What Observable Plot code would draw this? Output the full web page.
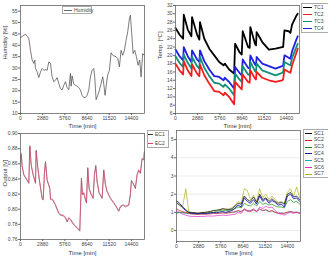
<!DOCTYPE html>
<html><head><meta charset="utf-8">
<script src="https://cdn.jsdelivr.net/npm/d3@7"></script>
<script src="https://cdn.jsdelivr.net/npm/@observablehq/plot@0.6"></script>
<style>
body{margin:0;background:#fff;}
#root{position:relative;width:328px;height:263px;overflow:hidden;font-family:"Liberation Sans",Arial,sans-serif;background:#fff;}
.lg{position:absolute;border:0.6px solid #aaa;background:#fff;box-sizing:border-box;}
.lt{position:absolute;font-size:5px;color:#444;line-height:5px;white-space:nowrap;}
.ll{position:absolute;height:0;}
</style>
</head><body><div id="root"></div>
<script>
// ---------- data ----------
const xTickValues = [0, 2880, 5760, 8640, 11520, 14400];

const humTime = [0,432,649,865,1081,1297,1513,1730,1859,1946,2162,2378,2594,2811,3027,3243,3459,3675,3892,4108,4324,4540,4756,4973,5189,5405,5621,5838,6054,6270,6486,6573,6702,6918,7135,7351,7567,7783,7999,8216,8432,8648,8864,9080,9297,9513,9642,9815,10032,10248,10464,10680,10810,10983,11156,11329,11545,11761,11977,12194,12410,12626,12842,13058,13275,13491,13707,13923,14140,14269,14442,14615,14831,15048,15264,15480,15653,15869,16050];
const humidity = [43.4,44.4,44.9,44.0,43.0,37.8,33.5,32.0,33.5,29.8,28.3,25.8,28.3,29.8,29.0,29.3,29.0,32.7,32.0,26.1,24.0,24.6,25.8,23.2,21.0,20.3,22.4,24.0,21.4,20.5,27.6,22.0,26.5,22.9,22.4,22.0,21.4,20.3,18.0,17.0,17.0,18.0,20.3,26.1,29.0,29.8,26.0,16.1,18.0,20.3,23.2,26.1,23.0,18.0,23.0,27.0,29.0,36.7,35.6,35.2,35.0,34.2,30.5,37.8,35.6,37.8,42.2,45.9,51.8,53.2,45.2,36.4,37.8,35.0,31.2,33.5,26.1,36.4,35.6];
const humTicks = [10,15,20,25,30,35,40,45,50,55];

const tcTime = [0,516,989,1075,1591,2064,2150,2795,3096,3182,3741,4386,5031,5676,6235,6407,6966,7611,7740,8299,8600,8729,9417,9632,9718,10320,10449,10535,11266,12126,12986,13846,13975,14147,14706,14921,15136,15652,15867];
const TC1 = [26.6,25.0,24.0,29.8,26.2,24.6,29.2,25.0,23.8,28.0,24.0,21.6,20.0,18.4,17.6,18.0,16.6,15.6,22.8,20.8,20.2,25.8,22.0,21.8,26.8,22.8,22.4,25.6,23.2,21.4,21.6,22.0,22.0,26.0,25.8,25.4,27.4,29.4,30.0];
const TC2 = [18.0,16.4,15.4,18.6,16.4,15.0,17.8,15.6,15.0,17.8,15.2,13.2,11.4,11.2,10.4,11.0,10.0,8.2,13.6,12.4,11.8,15.4,13.6,13.4,16.4,14.4,14.2,16.0,14.6,14.0,13.6,14.0,14.2,16.6,16.0,15.8,17.6,20.4,21.6];
const TC3 = [19.8,18.2,17.2,20.2,18.2,16.8,19.6,17.4,16.8,19.6,17.0,15.0,13.4,13.2,12.4,13.0,12.0,10.4,15.6,14.2,13.6,17.4,15.4,15.2,18.4,16.2,16.0,18.0,16.4,15.8,15.2,15.8,16.0,18.4,17.8,17.6,19.4,21.8,22.8];
const TC4 = [21.4,19.8,18.8,22.0,19.8,18.4,21.2,19.0,18.4,21.2,18.6,16.6,15.0,14.8,14.0,14.6,13.6,12.0,17.2,15.8,15.2,19.0,17.0,16.8,20.0,17.8,17.6,19.6,18.0,17.4,16.8,17.4,17.6,20.0,19.4,19.2,21.0,23.6,24.6];
const tcTicks = [6,8,10,12,14,16,18,20,22,24,26,28,30,32];

const ecTime = [0,86,216,432,865,1081,1211,1384,1643,1946,2032,2248,2508,2811,2940,3113,3243,3459,3805,3892,4194,4540,4973,5189,5621,5838,6054,6270,6486,6918,7351,7697,7913,8043,8216,8432,8562,8735,8907,9167,9426,9599,9772,9945,10205,10594,10810,11026,11242,11675,12107,12540,12756,12972,13318,13621,14053,14269,14399,14615,14918,15134,15350,15566,15783,15999,16080];
const EC1 = [0.862,0.872,0.856,0.845,0.838,0.834,0.884,0.858,0.845,0.834,0.878,0.854,0.834,0.814,0.812,0.848,0.863,0.838,0.827,0.813,0.812,0.805,0.794,0.792,0.791,0.788,0.783,0.788,0.786,0.779,0.775,0.771,0.841,0.819,0.821,0.812,0.808,0.855,0.827,0.819,0.814,0.845,0.858,0.836,0.821,0.814,0.852,0.832,0.823,0.814,0.808,0.801,0.797,0.803,0.805,0.803,0.805,0.819,0.838,0.834,0.827,0.845,0.852,0.847,0.867,0.865,0.876];
const EC2 = [0.863,0.874,0.857,0.846,0.839,0.835,0.883,0.859,0.846,0.835,0.877,0.855,0.835,0.815,0.813,0.849,0.862,0.839,0.828,0.814,0.813,0.806,0.795,0.793,0.792,0.789,0.784,0.789,0.787,0.780,0.776,0.772,0.840,0.820,0.822,0.813,0.809,0.854,0.828,0.820,0.815,0.846,0.857,0.837,0.822,0.815,0.851,0.833,0.824,0.815,0.809,0.802,0.798,0.804,0.806,0.804,0.806,0.820,0.837,0.835,0.828,0.846,0.851,0.848,0.866,0.866,0.875];
const ecTicks = [0.76,0.78,0.80,0.82,0.84,0.86,0.88,0.90];

const scTime = [0,400,800,1200,1600,2000,2400,2800,3200,3600,4000,4400,4800,5200,5600,6000,6400,6800,7200,7600,8000,8400,8800,9200,9600,10000,10400,10800,11200,11600,12000,12400,12800,13200,13600,14000,14400,14800,15200,15600,16000];
const SC1 = [1.55,1.4,1.25,1.1,1.0,0.98,0.97,0.95,0.98,1.0,1.02,1.05,1.1,1.12,1.15,1.2,1.18,1.15,1.2,1.35,1.5,1.45,1.9,1.7,1.6,1.85,1.55,2.0,1.7,1.8,1.6,1.75,1.6,1.5,1.55,1.45,2.0,2.1,1.85,1.9,1.7];
const SC2 = [1.2,1.1,1.05,1.0,0.95,0.92,0.9,0.9,0.9,0.9,0.9,0.92,0.95,0.93,0.95,0.97,0.95,0.98,1.0,1.05,1.1,1.05,1.2,1.1,1.05,1.15,1.05,1.2,1.1,1.15,1.05,1.1,1.0,0.95,0.95,0.95,1.0,1.05,1.0,1.0,0.95];
const SC3 = [0.95,1.0,1.0,0.98,0.95,0.95,0.93,0.93,0.95,0.95,0.97,1.0,1.0,1.05,1.1,1.12,1.1,1.1,1.15,1.2,1.3,1.25,1.5,1.4,1.35,1.5,1.35,1.6,1.45,1.5,1.4,1.45,1.35,1.3,1.3,1.25,1.6,1.7,1.55,1.6,1.45];
const SC4 = [1.65,1.5,1.3,1.15,1.0,0.95,0.95,0.92,0.95,0.93,0.95,0.97,1.0,0.98,1.02,1.05,1.0,1.05,1.1,1.25,1.4,1.3,1.8,1.6,1.5,1.7,1.45,1.9,1.6,1.75,1.5,1.65,1.55,1.4,1.45,1.3,1.9,2.0,1.75,1.8,1.6];
const SC5 = [1.0,0.98,0.97,0.95,0.93,0.92,0.92,0.91,0.92,0.92,0.93,0.94,0.95,0.95,0.96,0.98,0.97,0.98,1.0,1.02,1.08,1.05,1.15,1.1,1.08,1.12,1.05,1.15,1.1,1.12,1.05,1.08,1.0,0.97,0.96,0.95,1.02,1.05,1.0,1.02,0.98];
const SC6 = [1.1,1.0,0.9,0.85,0.8,0.78,0.78,0.77,0.78,0.78,0.8,0.8,0.8,0.82,0.83,0.85,0.83,0.85,0.88,0.9,1.0,0.95,1.15,1.05,1.1,1.2,1.05,1.3,1.2,1.35,1.25,1.3,1.1,0.95,0.9,0.85,0.95,1.0,0.95,1.0,0.95];
const SC7 = [1.5,1.4,1.3,2.3,1.05,1.0,0.98,0.97,1.0,1.0,1.02,1.05,1.1,1.1,1.15,1.2,1.15,1.2,1.25,1.4,1.6,1.5,2.3,2.2,1.7,1.95,1.6,2.3,1.8,2.0,1.7,1.9,1.7,1.55,1.6,1.5,2.1,2.3,1.9,2.4,1.8];
const scTicks = [0,1,2,3,4,5];

const tcNames = ["TC1","TC2","TC3","TC4"];
const tcColors = ["#000000","#f01e1e","#14907a","#2020e0"];
const ecNames = ["EC1","EC2"];
const ecColors = ["#333333","#e8406a"];
const scNames = ["SC1","SC2","SC3","SC4","SC5","SC6","SC7"];
const scColors = ["#000000","#e81e1e","#108a10","#1a1aa8","#20a8b8","#e028c8","#b0b020"];

// ---------- drawing ----------
const root = document.getElementById("root");
const font = "'Liberation Sans', Arial, sans-serif";
const pts = (ts, vs) => ts.map((t, i) => ({t, v: vs[i]}));

function panel(o) {
  const marks = [];
  if (o.grid) marks.push(Plot.gridY(o.yTicks, {stroke: "#d6d6d6", strokeOpacity: 1, strokeWidth: 0.5}));
  o.series.forEach(s => marks.push(Plot.line(pts(s.t, s.v), {x: "t", y: "v", stroke: s.color, strokeWidth: s.w, curve: "linear"})));
  marks.push(Plot.frame({stroke: "#666", strokeWidth: 0.8}));
  marks.push(Plot.axisX({ticks: xTickValues, tickSize: 2, tickPadding: 1, tickFormat: d => String(d), label: null, fontSize: 5, fill: "#444", stroke: "#666"}));
  marks.push(Plot.axisY({ticks: o.yTicks, tickSize: 2, tickPadding: 1, tickFormat: o.yFmt, label: null, fontSize: 5, fill: "#444", stroke: "#666"}));
  marks.push(Plot.text(["Time [min]"], {frameAnchor: "bottom", dy: o.xlabDy, text: d => d, fontSize: 6, fill: "#333"}));
  if (o.yLabel) marks.push(Plot.text([o.yLabel], {frameAnchor: "left", dx: -15, rotate: -90, text: d => d, fontSize: 6, fill: "#333"}));
  const p = Plot.plot({
    width: o.width, height: o.height,
    marginTop: o.mt, marginRight: o.mr, marginBottom: o.mb, marginLeft: o.ml,
    style: {fontFamily: font, fontSize: "5px", background: "transparent", overflow: "visible"},
    x: {domain: [0, 16100]},
    y: {domain: o.yDomain},
    marks
  });
  p.style.position = "absolute";
  p.style.left = o.left + "px";
  p.style.top = o.top + "px";
  root.appendChild(p);
}

function legend(box, entries) {
  const b = document.createElement("div");
  b.className = "lg";
  Object.assign(b.style, {left: box.x + "px", top: box.y + "px", width: box.w + "px", height: box.h + "px"});
  root.appendChild(b);
  entries.forEach(e => {
    const l = document.createElement("div");
    l.className = "ll";
    Object.assign(l.style, {left: e.x + "px", top: e.y + "px", width: e.len + "px", borderTop: "0.8px solid " + e.color});
    root.appendChild(l);
    const t = document.createElement("div");
    t.className = "lt";
    t.textContent = e.label;
    Object.assign(t.style, {left: (e.x + e.len + 2) + "px", top: (e.y - 2.5) + "px"});
    root.appendChild(t);
  });
}

// Panel 1: humidity
panel({left: 0, top: 0, width: 164, height: 131, mt: 5, mr: 20, mb: 18, ml: 20,
  yDomain: [10, 57.5], yTicks: humTicks, yFmt: d => String(d), yLabel: "Humidity [%]", xlabDy: 14,
  series: [{t: humTime, v: humidity, color: "#444", w: 0.7}]});

// Panel 2: temperatures
panel({left: 152, top: 0, width: 176, height: 131, mt: 5, mr: 29, mb: 18, ml: 23,
  yDomain: [6, 32], yTicks: tcTicks, yFmt: d => String(d), yLabel: "Temp. [°C]", xlabDy: 14,
  series: [
    {t: tcTime, v: TC1, color: tcColors[0], w: 1.8},
    {t: tcTime, v: TC4, color: tcColors[3], w: 1.8},
    {t: tcTime, v: TC3, color: tcColors[2], w: 1.8},
    {t: tcTime, v: TC2, color: tcColors[1], w: 1.8}
  ]});

// Panel 3: EC outputs
panel({left: 0, top: 128, width: 164, height: 132, mt: 5, mr: 20, mb: 21, ml: 20,
  yDomain: [0.76, 0.90], yTicks: ecTicks, yFmt: d3.format(".2f"), yLabel: "Output [V]", xlabDy: 15,
  series: [
    {t: ecTime, v: EC1, color: ecColors[0], w: 0.5},
    {t: ecTime, v: EC2, color: ecColors[1], w: 0.7}
  ]});

// Panel 4: SC outputs
panel({left: 152, top: 128, width: 176, height: 132, mt: 2, mr: 28, mb: 19, ml: 24,
  yDomain: [-0.6, 5.5], yTicks: scTicks, yFmt: d => String(d), yLabel: null, xlabDy: 13, grid: true,
  series: [
    {t: scTime, v: SC5, color: scColors[4], w: 0.7},
    {t: scTime, v: SC3, color: scColors[2], w: 0.7},
    {t: scTime, v: SC2, color: scColors[1], w: 0.7},
    {t: scTime, v: SC6, color: scColors[5], w: 0.7},
    {t: scTime, v: SC7, color: scColors[6], w: 0.7},
    {t: scTime, v: SC1, color: scColors[0], w: 0.7},
    {t: scTime, v: SC4, color: scColors[3], w: 0.9}
  ]});

// Legends
legend({x: 62, y: 6, w: 30, h: 8}, [{label: "Humidity", color: "#666", x: 64, y: 10, len: 8}]);
legend({x: 301, y: 3, w: 30, h: 30}, tcNames.map((n, i) => ({label: n, color: tcColors[i], x: 303, y: 7 + i * 7, len: 9})));
legend({x: 147, y: 130, w: 22, h: 18}, ecNames.map((n, i) => ({label: n, color: ecColors[i], x: 148, y: 134 + i * 9, len: 5})));
legend({x: 303, y: 129, w: 28, h: 49}, scNames.map((n, i) => ({label: n, color: scColors[i], x: 305, y: 133 + i * 6.8, len: 7})));
</script>
</body></html>
